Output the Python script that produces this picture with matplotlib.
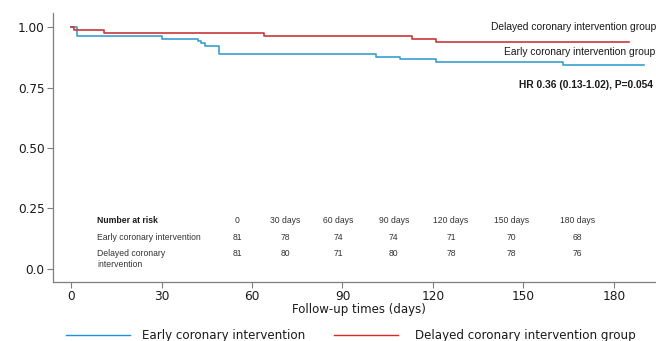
import matplotlib
matplotlib.use("Agg")
import matplotlib.pyplot as plt
from matplotlib.lines import Line2D

# Kaplan-Meier step data (days, survival)
early_days = [0, 2, 30, 42, 43, 44.5, 49, 101, 109, 121, 163, 190]
early_surv = [1.0, 0.963, 0.952, 0.942, 0.932, 0.922, 0.889, 0.878, 0.867, 0.856, 0.843, 0.843]
delayed_days = [0, 1, 11, 64, 113, 121, 185]
delayed_surv = [1.0, 0.988, 0.976, 0.963, 0.951, 0.940, 0.940]

# number at risk table
risk_cols = ["0", "30 days", "60 days", "90 days", "120 days", "150 days", "180 days"]
risk_col_pos = [55, 71, 88.5, 107, 126, 146, 168]
risk_early = [81, 78, 74, 74, 71, 70, 68]
risk_delayed = [81, 80, 71, 80, 78, 78, 76]

x_ticks = [0, 30, 60, 90, 120, 150, 180]
y_ticks = [0.0, 0.25, 0.50, 0.75, 1.00]
y_tick_labels = ["0.0", "0.25", "0.50", "0.75", "1.00"]

blue = "#3a9fcf"
red = "#c93838"
grey = "#7f7f7f"

fig = plt.figure(figsize=(6.56, 3.41), dpi=100)
ax = fig.add_axes([53 / 656, 1 - 282 / 341, 1 - 53 / 656, (282 - 13) / 341])

ax.step(early_days, early_surv, where="post", color=blue, lw=1.2)
ax.step(delayed_days, delayed_surv, where="post", color=red, lw=1.2)

ax.set_xlim(-6, 194)
ax.set_ylim(-0.054, 1.058)
ax.set_xticks(x_ticks)
ax.set_yticks(y_ticks)
ax.set_yticklabels(y_tick_labels)
ax.tick_params(axis="both", colors=grey, labelcolor="#1a1a1a", labelsize=8.7,
               length=4, width=0.8, direction="out")
ax.tick_params(axis="x", pad=1.5)
ax.tick_params(axis="y", pad=2)
for side in ["top", "right"]:
    ax.spines[side].set_visible(False)
for side in ["left", "bottom"]:
    ax.spines[side].set_color(grey)
    ax.spines[side].set_linewidth(0.9)

fig.text(359 / 656, 1 - 309.5 / 341, "Follow-up times (days)", ha="center", va="center",
         fontsize=8.5, color="#1a1a1a")

# curve labels
arial = "Liberation Sans"
ax.text(194, 1.0, "Delayed coronary intervention group", ha="right", va="center",
        fontsize=7.4, family=arial, color="#1a1a1a")
ax.text(193.8, 0.895, "Early coronary intervention group", ha="right", va="center",
        fontsize=7.4, family=arial, color="#1a1a1a")
ax.text(193, 0.76, "HR 0.36 (0.13-1.02), P=0.054", ha="right", va="center",
        fontsize=7.4, family=arial, weight="bold", color="#1a1a1a")

# number at risk
row_y = [0.201, 0.131, 0.065]
ax.text(8.6, row_y[0], "Number at risk", ha="left", va="center", fontsize=6.2,
        family=arial, weight="bold", color="#1a1a1a")
ax.text(8.6, row_y[1], "Early coronary intervention", ha="left", va="center",
        fontsize=6.2, family=arial, color="#333333")
ax.text(8.6, row_y[2] + 0.017, "Delayed coronary\nintervention", ha="left", va="top",
        fontsize=6.2, family=arial, color="#333333", linespacing=1.25)
for lbl, xp, e, d in zip(risk_cols, risk_col_pos, risk_early, risk_delayed):
    ax.text(xp, row_y[0], lbl, ha="center", va="center", fontsize=6.2, family=arial, color="#333333")
    ax.text(xp, row_y[1], str(e), ha="center", va="center", fontsize=6.2, family=arial, color="#333333")
    ax.text(xp, row_y[2], str(d), ha="center", va="center", fontsize=6.2, family=arial, color="#333333")

# bottom legend
ly = 1 - 335 / 341
fig.add_artist(Line2D([66 / 656, 130 / 656], [ly, ly], color="#1f8fe0", lw=1.0))
fig.text(142 / 656, ly, "Early coronary intervention", ha="left", va="center",
         fontsize=8.6, color="#1a1a1a")
fig.add_artist(Line2D([334 / 656, 398 / 656], [ly, ly], color="#e02424", lw=1.0))
fig.text(415 / 656, ly, "Delayed coronary intervention group", ha="left", va="center",
         fontsize=8.6, color="#1a1a1a")

fig.savefig("out.png", dpi=100)
